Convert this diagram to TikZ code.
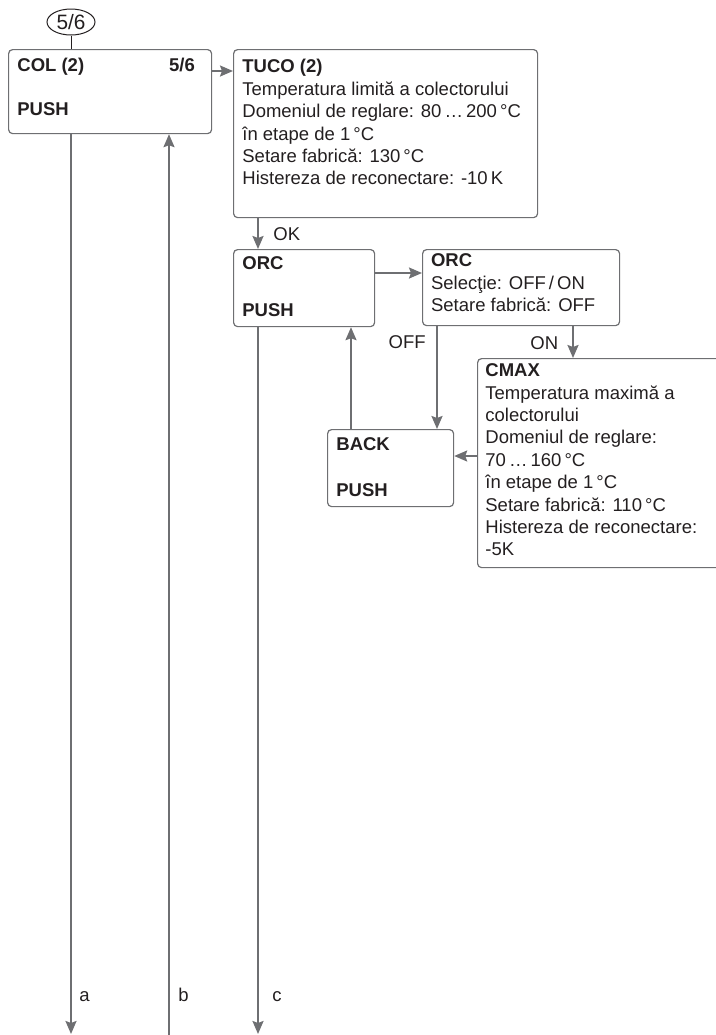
\documentclass[tikz,border=0pt]{standalone}
\usepackage{fontspec}
\setmainfont{Liberation Sans}
\usetikzlibrary{arrows.meta,shapes.geometric,positioning,calc}
\definecolor{linegray}{RGB}{110,111,114}
\definecolor{inkblack}{RGB}{35,31,32}
\tikzset{
  menubox/.style={draw=linegray,line width=0.6pt,rounded corners=2pt,inner sep=0pt,anchor=north west},
  txt/.style={inner sep=0pt,text=inkblack,font=\fontsize{9.25}{11.2}\selectfont},
  btxt/.style={txt,font=\fontsize{9.25}{11.2}\selectfont\bfseries},
  para/.style={txt,align=left,anchor=north west,execute at begin node=\strut},
  arr/.style={draw=linegray,line width=1pt,-{Stealth[length=6.5pt,width=5.5pt,inset=1pt]}},
  sheet/.style={ellipse,draw=inkblack,line width=0.5pt,inner sep=0pt,minimum width=24pt,minimum height=13pt,text=inkblack,font=\fontsize{10.4}{12}\selectfont}
}
\begin{document}
\begin{tikzpicture}[x=0.5pt,y=-0.5pt]
\useasboundingbox (0,0) rectangle (716,1035);
\clip (0,0) rectangle (716,1035);

% page marker
\node[sheet] (sheet) at (71,22) {5/6};

% menu boxes
\node[menubox,minimum width=101.5pt,minimum height=42pt] (col) at (8,49) {};
\node[menubox,minimum width=152pt,minimum height=84pt] (tuco) at (233,49) {};
\node[menubox,minimum width=70.5pt,minimum height=38.5pt] (orc1) at (233,249) {};
\node[menubox,minimum width=98.5pt,minimum height=38pt] (orc2) at (422,249) {};
\node[menubox,minimum width=63pt,minimum height=38.5pt] (back) at (327,429) {};
\node[menubox,minimum width=130pt,minimum height=104.5pt] (cmax) at (477,358) {};

% box texts
\node[btxt,anchor=base west] (coltitle) at ($(col.north west)+(9,22)$) {COL (2)};
\node[btxt,anchor=base east] (colpage) at ($(col.north east)+(-17,22)$) {5/6};
\node[btxt,anchor=base west] (colpush) at ($(col.north west)+(9,66)$) {PUSH};
\node[para] (tucotext) at ($(tuco.north west)+(9,10)$) {\textbf{TUCO (2)}\\Temperatura limită a colectorului\\Domeniul de reglare: 80\,…\,200\,°C\\în etape de 1\,°C\\Setare fabrică: 130\,°C\\Histereza de reconectare: -10\,K};
\node[btxt,anchor=base west] (orctitle) at ($(orc1.north west)+(9,20.5)$) {ORC};
\node[btxt,anchor=base west] (orcpush) at ($(orc1.north west)+(9,67)$) {PUSH};
\node[para] (orctext) at ($(orc2.north west)+(8.7,4.6)$) {\textbf{ORC}\\Selecţie: OFF\,/\,ON\\Setare fabrică: OFF};
\node[btxt,anchor=base west] (backtitle) at ($(back.north west)+(9,21.7)$) {BACK};
\node[btxt,anchor=base west] (backpush) at ($(back.north west)+(9,67)$) {PUSH};
\node[para] (cmaxtext) at ($(cmax.north west)+(8,5.3)$) {\textbf{CMAX}\\Temperatura maximă a\\colectorului\\Domeniul de reglare:\\70\,…\,160\,°C\\în etape de 1\,°C\\Setare fabrică: 110\,°C\\Histereza de reconectare:\\-5K};

% connectors
\draw[inkblack,line width=0.5pt] (sheet.south) -- (sheet.south |- col.north);
\draw[arr] ([yshift=-11pt]col.north east) -- ([yshift=-11pt]tuco.north west);
\coordinate (aend) at (71,1034);
\coordinate (bstart) at (169,1036);
\coordinate (cend) at (258,1034);
\draw[arr] (col.south -| aend) -- (aend);
\draw[arr] (bstart) -- (col.south -| bstart);
\draw[arr] (tuco.south -| cend) -- (orc1.north -| cend);
\draw[arr] (orc1.south -| cend) -- (cend);
\draw[arr] ([yshift=-12pt]orc1.north east) -- ([yshift=-12pt]orc2.north west);
\coordinate (offx) at ([xshift=7.5pt]orc2.south west);
\draw[arr] (offx) -- (offx |- back.north);
\coordinate (onx) at ([xshift=75.5pt]orc2.south west);
\draw[arr] (onx) -- (onx |- cmax.north);
\coordinate (backin) at ([yshift=-13.5pt]back.north east);
\draw[arr] (cmax.west |- backin) -- (backin);
\coordinate (backout) at ([xshift=12pt]back.north west);
\draw[arr] (backout) -- (backout |- orc1.south);

% connector labels
\node[txt,anchor=base west] (ok) at (273,240) {OK};
\node[txt,anchor=base east] (off) at (426,348) {OFF};
\node[txt,anchor=base west] (on) at (530,349) {ON};
\node[txt,anchor=base west] (la) at (79,1001) {a};
\node[txt,anchor=base west] (lb) at (178,1001) {b};
\node[txt,anchor=base west] (lc) at (272,1001) {c};
\end{tikzpicture}
\end{document}
